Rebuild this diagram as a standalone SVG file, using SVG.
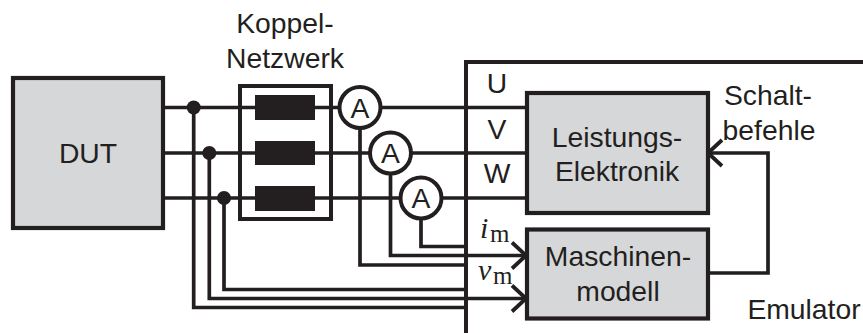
<svg xmlns="http://www.w3.org/2000/svg" width="863" height="333" viewBox="0 0 863 333">
<style>
.w{fill:none;stroke:#231f20;stroke-width:3.7}
.b{fill:#d6d7d9;stroke:#231f20;stroke-width:4.2}
.k{fill:#fff;stroke:#231f20;stroke-width:4}
.r{fill:#231f20}
text{font-family:"Liberation Sans",Arial,sans-serif;font-size:28.300px;fill:#231f20;text-anchor:middle}
.m{font-family:"Liberation Serif","Times New Roman",serif;text-anchor:start}
</style>
<defs><marker id="a" markerUnits="userSpaceOnUse" markerWidth="20" markerHeight="32" refX="17" refY="16" orient="auto"><path d="M3 3L17 16L3 29" fill="none" stroke="#231f20" stroke-width="3.8"/></marker></defs>
<g id="emulator"><path class="k" d="M870 62H466V340"/><text x="804" y="319">Emulator</text></g>
<g id="koppel-netzwerk"><rect class="k" x="240" y="86" width="91" height="133"/>
<rect class="r" x="255" y="95" width="60" height="25"/><rect class="r" x="255" y="141" width="60" height="24"/><rect class="r" x="255" y="186" width="60" height="25"/>
<text x="285" y="33">Koppel-</text><text x="285" y="68">Netzwerk</text></g>
<g id="connectors">
<path class="w" d="M164 107.500H255M315 107.500H526M164 153H255M315 153H526M164 198H255M315 198H526"/>
<path class="w" d="M360 128V265H466"/>
<path class="w" d="M390.500 174V255.500H526" marker-end="url(#a)"/>
<path class="w" d="M421 219V246.500H466"/>
<path class="w" d="M224 198V289.500H466"/>
<path class="w" d="M209.300 153V298.500H526" marker-end="url(#a)"/>
<path class="w" d="M193.700 107.500V307.500H466"/>
<path class="w" d="M708 273H768V153H708" marker-end="url(#a)"/>
<circle class="r" cx="193.700" cy="107.500" r="7"/><circle class="r" cx="209.300" cy="153" r="7"/><circle class="r" cx="224" cy="198" r="7"/>
</g>
<g id="dut"><rect class="b" x="13" y="78" width="150" height="150"/><text x="88" y="163">DUT</text></g>
<g id="ammeter-1"><circle cx="360" cy="107.500" r="20.500" class="k"/><text x="360" y="117.500">A</text></g>
<g id="ammeter-2"><circle cx="390.500" cy="153" r="20.500" class="k"/><text x="390.500" y="163">A</text></g>
<g id="ammeter-3"><circle cx="421" cy="198" r="20.500" class="k"/><text x="421" y="208">A</text></g>
<g id="leistungselektronik"><rect class="b" x="527" y="93" width="181" height="120"/><text x="617" y="147">Leistungs-</text><text x="617" y="181">Elektronik</text></g>
<g id="maschinenmodell"><rect class="b" x="527" y="229.500" width="181" height="89"/><text x="618" y="266">Maschinen-</text><text x="618" y="301">modell</text></g>
<g id="labels">
<text x="497" y="93">U</text><text x="497" y="139">V</text><text x="497" y="183">W</text>
<text x="768" y="105">Schalt-</text><text x="769" y="140">befehle</text>
<text class="m" x="480" y="238" font-style="italic" style="font-size:30px">i</text><text class="m" x="490" y="242" style="font-size:25px">m</text>
<text class="m" x="478" y="280" font-style="italic" style="font-size:30px">v</text><text class="m" x="493" y="284" style="font-size:25px">m</text>
</g>
</svg>
